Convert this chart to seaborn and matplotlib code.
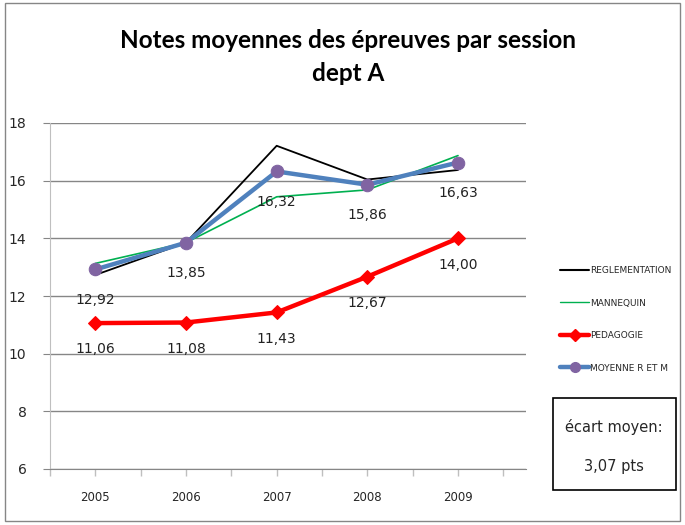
import matplotlib
matplotlib.use("Agg")
import matplotlib.pyplot as plt
import seaborn as sns
import pandas as pd
from matplotlib.lines import Line2D
from matplotlib.patches import Rectangle

years = [2005, 2006, 2007, 2008, 2009]
reglementation = [12.73, 13.85, 17.21, 16.04, 16.37]
mannequin = [13.13, 13.85, 15.44, 15.68, 16.87]
pedagogie = [11.06, 11.08, 11.43, 12.67, 14.00]
moyenne = [12.92, 13.85, 16.32, 15.86, 16.63]
moy_labels = ["12,92", "13,85", "16,32", "15,86", "16,63"]
ped_labels = ["11,06", "11,08", "11,43", "12,67", "14,00"]

sns.set_style("white")
plt.rcParams['font.family'] = ['DejaVu Sans']

fig = plt.figure(figsize=(6.85, 5.25), dpi=100)
ax = fig.add_axes([50/685, 1-469/525, 476/685, 346/525])

df = pd.DataFrame({"year": years, "reg": reglementation, "man": mannequin,
                   "ped": pedagogie, "moy": moyenne})

sns.lineplot(data=df, x="year", y="ped", ax=ax, color="#FF0000", lw=3.2,
             marker="D", markersize=7, markeredgecolor="#FF0000", zorder=3)
sns.lineplot(data=df, x="year", y="reg", ax=ax, color="black", lw=1.3, zorder=4)
sns.lineplot(data=df, x="year", y="man", ax=ax, color="#00B050", lw=1.2, zorder=5)
sns.lineplot(data=df, x="year", y="moy", ax=ax, color="#4F81BD", lw=3.2,
             marker="o", markersize=9, markerfacecolor="#8064A2",
             markeredgecolor="#8064A2", zorder=6)

for x, y, t in zip(years, moyenne, moy_labels):
    ax.annotate(t, (x, y), xytext=(0, -22), textcoords="offset points",
                ha="center", va="center", fontsize=10, color="#222222", zorder=7)
for x, y, t in zip(years, pedagogie, ped_labels):
    ax.annotate(t, (x, y), xytext=(0, -19), textcoords="offset points",
                ha="center", va="center", fontsize=10, color="#222222", zorder=7)

ax.set_xlim(2004.504, 2009.75)
ax.set_ylim(6, 18)
tick_pos = [2004.5 + 0.5 * i for i in range(11)]
tick_lab = [str(int(p)) if p in years else "" for p in tick_pos]
ax.set_xticks(tick_pos)
ax.set_xticklabels(tick_lab, fontsize=8.5)
ax.set_yticks([6, 8, 10, 12, 14, 16, 18])
ax.set_yticklabels(["6", "8", "10", "12", "14", "16", "18"], fontsize=10)
ax.yaxis.grid(True, color="#868686", lw=1)
ax.xaxis.grid(False)
ax.set_axisbelow(True)
ax.set_xlabel("")
ax.set_ylabel("")
for s in ["top", "right"]:
    ax.spines[s].set_visible(False)
ax.spines["left"].set_color("#BFBFBF")
ax.spines["bottom"].set_color("#868686")
ax.tick_params(axis="x", which="major", direction="out", length=5, width=1, color="#BFBFBF",
               pad=11, bottom=True)
ax.tick_params(axis="y", direction="out", length=5, color="#868686", pad=12, left=True)

fig.suptitle("Notes moyennes des épreuves par session\ndept A", x=0.508, y=0.945,
             fontsize=17.5, fontweight="bold", family="Lato", linespacing=1.55,
             color="black")

handles = [
    Line2D([], [], color="black", lw=1.5),
    Line2D([], [], color="#00B050", lw=1.0),
    Line2D([], [], color="#FF0000", lw=3.2, marker="D", markersize=6),
    Line2D([], [], color="#4F81BD", lw=3.2, marker="o", markersize=7,
           markerfacecolor="#8064A2", markeredgecolor="#8064A2"),
]
labels = ["REGLEMENTATION", "MANNEQUIN", "PEDAGOGIE", "MOYENNE R ET M"]
fig.legend(handles, labels, loc="upper left", bbox_to_anchor=(552/685, 1-258/525),
           frameon=False, handlelength=3.2, handletextpad=0.1,
           labelspacing=2.6, prop={"family": ["Liberation Sans Narrow", "DejaVu Sans"], "size": 6.5})

fig.patches.append(Rectangle((553/685, 1-490/525), 123/685, 92/525, transform=fig.transFigure,
                             fill=False, edgecolor="black", lw=1.2))
fig.text(614/685, 1-427/525, "écart moyen:", ha="center", va="center", fontsize=10.5,
         family=["Liberation Sans Narrow", "DejaVu Sans"])
fig.text(614/685, 1-466/525, "3,07 pts", ha="center", va="center", fontsize=10.5,
         family=["Liberation Sans Narrow", "DejaVu Sans"])

fig.patches.append(Rectangle((5/685, 4/525), 675/685, 518/525, transform=fig.transFigure,
                             fill=False, edgecolor="#868686", lw=1))

fig.savefig("out.png", dpi=100)
